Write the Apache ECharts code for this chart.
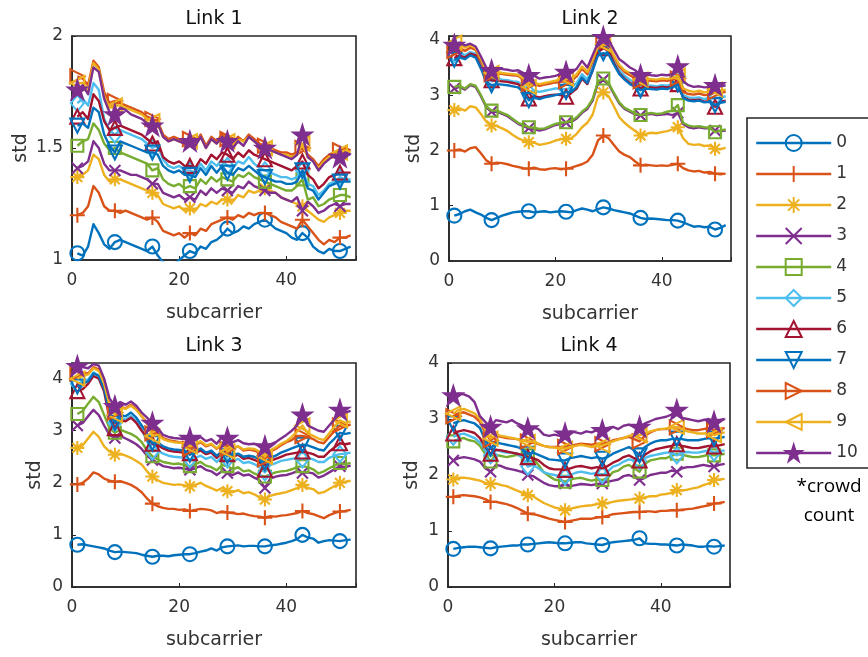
<!DOCTYPE html>
<html><head><meta charset="utf-8">
<script src="https://cdn.jsdelivr.net/npm/echarts@6/dist/echarts.min.js"></script>
<style>html,body{margin:0;padding:0;background:#fff}#c{width:868px;height:657px}</style>
</head><body><div id="c"></div>
<script>
const subcarriers = [1,2,3,4,5,6,7,8,9,10,11,12,13,14,15,16,17,18,19,20,21,22,23,24,25,26,27,28,29,30,31,32,33,34,35,36,37,38,39,40,41,42,43,44,45,46,47,48,49,50,51,52];
const crowdCounts = ['0','1','2','3','4','5','6','7','8','9','10'];
const panelTitles = ['Link 1','Link 2','Link 3','Link 4'];
const xTicks = [0,20,40];
const yTicksL1 = [1,1.5,2];
const yTicksOther = [0,1,2,3,4];

// ---- Link 1 ----
const L1_0 = [1.03,1.02,1.06,1.16,1.12,1.07,1.05,1.08,1.09,1.08,1.07,1.06,1.05,1.04,1.06,1.02,0.99,0.98,0.98,1.00,1.02,1.04,1.03,1.06,1.05,1.08,1.09,1.11,1.14,1.12,1.13,1.15,1.14,1.16,1.17,1.18,1.16,1.14,1.13,1.12,1.10,1.09,1.12,1.10,1.06,1.04,1.03,1.05,1.04,1.04,1.05,1.06];
const L1_1 = [1.20,1.21,1.24,1.33,1.30,1.24,1.22,1.22,1.21,1.22,1.21,1.20,1.19,1.18,1.19,1.17,1.13,1.12,1.11,1.12,1.10,1.12,1.11,1.14,1.13,1.16,1.17,1.18,1.19,1.18,1.20,1.19,1.21,1.20,1.21,1.21,1.20,1.19,1.17,1.16,1.15,1.14,1.18,1.15,1.12,1.09,1.07,1.09,1.08,1.10,1.10,1.11];
const L1_2 = [1.37,1.38,1.40,1.47,1.45,1.38,1.35,1.36,1.36,1.35,1.34,1.33,1.32,1.31,1.30,1.29,1.25,1.24,1.23,1.24,1.22,1.23,1.22,1.25,1.24,1.26,1.25,1.27,1.27,1.26,1.29,1.28,1.31,1.30,1.31,1.32,1.31,1.30,1.28,1.27,1.26,1.25,1.24,1.22,1.20,1.18,1.17,1.19,1.20,1.21,1.22,1.22];
const L1_3 = [1.41,1.42,1.44,1.53,1.50,1.43,1.40,1.40,1.40,1.39,1.38,1.38,1.37,1.36,1.34,1.34,1.30,1.29,1.28,1.29,1.27,1.28,1.27,1.31,1.29,1.32,1.30,1.32,1.31,1.30,1.33,1.32,1.35,1.33,1.32,1.31,1.30,1.30,1.28,1.27,1.26,1.28,1.22,1.26,1.24,1.21,1.22,1.24,1.25,1.24,1.25,1.25];
const L1_4 = [1.51,1.53,1.54,1.61,1.58,1.52,1.49,1.50,1.48,1.47,1.46,1.45,1.44,1.43,1.40,1.41,1.36,1.34,1.33,1.34,1.32,1.33,1.32,1.36,1.34,1.37,1.35,1.37,1.36,1.35,1.38,1.37,1.39,1.37,1.36,1.35,1.34,1.33,1.32,1.31,1.31,1.33,1.36,1.27,1.28,1.24,1.25,1.27,1.28,1.29,1.29,1.28];
const L1_5 = [1.70,1.72,1.69,1.79,1.76,1.63,1.58,1.56,1.58,1.57,1.56,1.55,1.54,1.52,1.50,1.51,1.45,1.42,1.41,1.42,1.40,1.40,1.39,1.43,1.40,1.44,1.42,1.45,1.42,1.41,1.44,1.43,1.46,1.43,1.41,1.40,1.39,1.38,1.37,1.37,1.36,1.37,1.40,1.34,1.33,1.29,1.31,1.34,1.35,1.37,1.36,1.36];
const L1_6 = [1.64,1.66,1.63,1.74,1.71,1.62,1.58,1.59,1.60,1.59,1.58,1.57,1.56,1.54,1.52,1.53,1.46,1.44,1.43,1.44,1.42,1.42,1.41,1.45,1.43,1.47,1.45,1.48,1.47,1.45,1.48,1.46,1.49,1.47,1.46,1.45,1.44,1.43,1.42,1.41,1.40,1.42,1.44,1.38,1.36,1.32,1.34,1.37,1.38,1.39,1.39,1.39];
const L1_7 = [1.60,1.61,1.59,1.68,1.66,1.56,1.51,1.48,1.53,1.52,1.51,1.50,1.49,1.48,1.48,1.47,1.42,1.40,1.39,1.40,1.38,1.38,1.37,1.41,1.38,1.42,1.39,1.42,1.39,1.38,1.41,1.40,1.42,1.40,1.38,1.37,1.36,1.35,1.35,1.34,1.34,1.35,1.40,1.32,1.31,1.27,1.30,1.33,1.34,1.35,1.35,1.35];
const L1_8 = [1.82,1.81,1.78,1.89,1.86,1.75,1.70,1.71,1.70,1.69,1.68,1.67,1.66,1.64,1.63,1.62,1.56,1.54,1.55,1.54,1.53,1.54,1.52,1.56,1.51,1.55,1.53,1.56,1.54,1.52,1.55,1.53,1.56,1.54,1.52,1.51,1.50,1.49,1.48,1.48,1.47,1.48,1.50,1.47,1.45,1.42,1.45,1.47,1.48,1.49,1.50,1.49];
const L1_9 = [1.79,1.79,1.76,1.88,1.85,1.73,1.68,1.69,1.69,1.68,1.67,1.66,1.65,1.63,1.62,1.61,1.55,1.53,1.54,1.53,1.52,1.53,1.51,1.55,1.50,1.54,1.52,1.55,1.53,1.51,1.54,1.53,1.55,1.53,1.51,1.50,1.49,1.48,1.47,1.47,1.46,1.47,1.52,1.46,1.44,1.41,1.44,1.46,1.47,1.48,1.49,1.48];
const L1_10 = [1.76,1.78,1.74,1.86,1.84,1.72,1.66,1.65,1.68,1.67,1.65,1.64,1.63,1.61,1.60,1.61,1.55,1.53,1.54,1.53,1.52,1.53,1.51,1.55,1.50,1.54,1.52,1.55,1.53,1.50,1.53,1.51,1.55,1.53,1.51,1.50,1.49,1.48,1.47,1.46,1.45,1.47,1.56,1.46,1.44,1.40,1.43,1.45,1.47,1.46,1.48,1.47];

// ---- Link 2 ----
const L2_0 = [0.82,0.85,0.90,0.93,0.88,0.84,0.78,0.74,0.78,0.82,0.85,0.88,0.89,0.90,0.90,0.88,0.89,0.90,0.88,0.89,0.90,0.89,0.88,0.92,0.95,0.93,0.90,0.94,0.97,0.95,0.92,0.90,0.88,0.86,0.82,0.78,0.76,0.77,0.76,0.75,0.74,0.74,0.73,0.70,0.66,0.62,0.63,0.61,0.62,0.57,0.60,0.65];
const L2_1 = [2.00,2.02,1.98,2.04,2.06,1.95,1.82,1.76,1.78,1.77,1.75,1.72,1.70,1.68,1.67,1.69,1.66,1.65,1.67,1.68,1.66,1.67,1.69,1.72,1.75,1.80,1.92,2.18,2.27,2.22,2.10,1.98,1.92,1.88,1.80,1.73,1.74,1.73,1.72,1.73,1.72,1.74,1.76,1.68,1.64,1.62,1.63,1.60,1.61,1.58,1.57,1.58];
const L2_2 = [2.73,2.76,2.72,2.80,2.78,2.66,2.52,2.45,2.44,2.40,2.35,2.28,2.22,2.18,2.15,2.14,2.10,2.12,2.14,2.18,2.20,2.21,2.22,2.30,2.42,2.50,2.65,2.98,3.05,2.98,2.80,2.60,2.50,2.42,2.35,2.27,2.30,2.32,2.31,2.33,2.35,2.38,2.42,2.22,2.12,2.10,2.11,2.08,2.09,2.03,2.02,2.05];
const L2_3 = [3.12,3.15,3.10,3.18,3.15,2.98,2.78,2.70,2.70,2.66,2.62,2.55,2.48,2.44,2.40,2.38,2.36,2.38,2.42,2.46,2.48,2.50,2.52,2.58,2.68,2.75,2.90,3.22,3.28,3.20,3.02,2.85,2.75,2.70,2.65,2.63,2.65,2.66,2.64,2.65,2.66,2.64,2.68,2.48,2.42,2.40,2.42,2.40,2.40,2.36,2.35,2.36];
const L2_4 = [3.15,3.17,3.12,3.20,3.17,3.00,2.80,2.72,2.72,2.68,2.64,2.57,2.50,2.46,2.42,2.41,2.39,2.40,2.44,2.48,2.50,2.51,2.54,2.60,2.70,2.78,2.93,3.25,3.30,3.22,3.04,2.87,2.77,2.72,2.67,2.64,2.66,2.68,2.66,2.67,2.70,2.72,2.82,2.50,2.45,2.43,2.44,2.42,2.41,2.33,2.36,2.38];
const L2_5 = [3.75,3.78,3.72,3.78,3.75,3.55,3.30,3.25,3.30,3.28,3.27,3.25,3.24,3.16,3.05,3.08,3.06,3.08,3.10,3.12,3.12,3.10,3.14,3.22,3.38,3.28,3.52,3.80,3.85,3.82,3.62,3.45,3.35,3.28,3.22,3.15,3.18,3.17,3.16,3.18,3.17,3.20,3.25,3.00,2.96,2.95,2.96,2.93,2.94,2.95,2.96,2.98];
const L2_6 = [3.67,3.72,3.68,3.75,3.72,3.50,3.30,3.27,3.26,3.25,3.24,3.22,3.20,3.10,2.94,2.98,2.96,2.98,3.00,3.01,3.00,2.97,3.04,3.12,3.30,3.20,3.45,3.78,3.85,3.80,3.58,3.40,3.30,3.22,3.18,3.12,3.15,3.14,3.13,3.15,3.14,3.16,3.20,2.96,2.92,2.91,2.92,2.88,2.89,2.79,2.88,2.90];
const L2_7 = [3.64,3.68,3.65,3.72,3.68,3.48,3.24,3.18,3.20,3.19,3.18,3.16,3.14,3.05,2.91,2.95,2.93,2.96,2.98,3.00,3.02,3.06,3.06,3.15,3.32,3.22,3.45,3.72,3.76,3.74,3.55,3.38,3.28,3.20,3.15,3.09,3.12,3.11,3.10,3.12,3.11,3.14,3.20,2.95,2.90,2.89,2.90,2.87,2.88,2.82,2.86,2.88];
const L2_8 = [3.80,3.85,3.80,3.86,3.82,3.62,3.42,3.38,3.40,3.38,3.37,3.36,3.35,3.28,3.20,3.20,3.17,3.19,3.21,3.23,3.24,3.25,3.26,3.34,3.48,3.38,3.62,3.88,3.95,3.90,3.70,3.52,3.42,3.36,3.30,3.25,3.27,3.26,3.25,3.27,3.26,3.28,3.30,3.06,3.02,3.01,3.03,3.00,3.01,3.05,3.04,3.06];
const L2_9 = [3.95,3.92,3.86,3.90,3.85,3.66,3.45,3.40,3.42,3.40,3.39,3.38,3.37,3.30,3.15,3.22,3.20,3.22,3.24,3.26,3.28,3.30,3.29,3.38,3.52,3.42,3.65,3.88,3.92,3.90,3.72,3.55,3.45,3.40,3.35,3.28,3.30,3.29,3.28,3.30,3.29,3.31,3.35,3.12,3.08,3.06,3.08,3.05,3.06,3.10,3.08,3.10];
const L2_10 = [3.91,3.95,3.90,3.93,3.88,3.70,3.50,3.45,3.48,3.47,3.46,3.44,3.45,3.40,3.36,3.35,3.30,3.32,3.33,3.35,3.38,3.42,3.40,3.48,3.62,3.50,3.72,3.95,4.05,4.00,3.82,3.65,3.58,3.50,3.45,3.36,3.38,3.36,3.35,3.37,3.36,3.38,3.52,3.25,3.18,3.15,3.16,3.14,3.15,3.18,3.16,3.18];

// ---- Link 3 ----
const L3_0 = [0.81,0.82,0.80,0.78,0.76,0.74,0.70,0.67,0.68,0.67,0.66,0.65,0.62,0.60,0.58,0.60,0.60,0.59,0.61,0.62,0.63,0.63,0.65,0.68,0.70,0.74,0.70,0.76,0.78,0.79,0.80,0.78,0.79,0.79,0.78,0.78,0.80,0.81,0.83,0.85,0.88,0.92,1.00,0.95,0.93,0.85,0.88,0.90,0.89,0.88,0.90,0.91];
const L3_1 = [1.97,2.00,2.08,2.20,2.16,2.08,2.04,2.02,2.03,2.00,1.96,1.90,1.82,1.70,1.60,1.55,1.52,1.50,1.50,1.48,1.49,1.46,1.48,1.50,1.49,1.47,1.42,1.45,1.43,1.42,1.40,1.41,1.38,1.36,1.35,1.33,1.36,1.35,1.37,1.38,1.40,1.42,1.46,1.42,1.40,1.36,1.32,1.38,1.42,1.45,1.46,1.48];
const L3_2 = [2.67,2.72,2.85,2.98,2.88,2.70,2.60,2.54,2.56,2.52,2.48,2.42,2.35,2.22,2.12,2.05,2.00,1.98,1.96,1.97,1.95,1.93,1.96,2.00,1.94,1.90,1.85,1.90,1.84,1.82,1.86,1.80,1.82,1.78,1.72,1.68,1.75,1.78,1.80,1.82,1.86,1.90,1.96,1.90,1.88,1.80,1.82,1.88,1.94,2.00,2.02,2.04];
const L3_3 = [3.10,3.15,3.28,3.40,3.30,3.10,2.92,2.86,2.90,2.85,2.80,2.74,2.65,2.52,2.44,2.38,2.32,2.30,2.28,2.29,2.27,2.25,2.28,2.32,2.25,2.22,2.15,2.22,2.19,2.15,2.20,2.14,2.16,2.10,2.05,1.90,2.08,2.12,2.14,2.15,2.18,2.22,2.19,2.20,2.18,2.10,2.14,2.20,2.26,2.32,2.30,2.33];
const L3_4 = [3.32,3.38,3.52,3.65,3.55,3.30,3.05,2.96,3.02,2.98,2.94,2.88,2.78,2.62,2.51,2.45,2.40,2.38,2.36,2.37,2.34,2.32,2.36,2.40,2.33,2.30,2.24,2.34,2.32,2.26,2.30,2.22,2.24,2.18,2.14,2.12,2.16,2.20,2.22,2.23,2.26,2.30,2.32,2.30,2.26,2.18,2.22,2.28,2.33,2.38,2.36,2.38];
const L3_5 = [3.90,3.95,3.98,4.12,4.06,3.82,3.35,3.15,3.25,3.22,3.28,3.18,3.02,2.80,2.60,2.62,2.56,2.52,2.50,2.49,2.48,2.45,2.48,2.52,2.46,2.50,2.40,2.50,2.45,2.42,2.46,2.38,2.40,2.36,2.30,2.20,2.34,2.38,2.42,2.44,2.46,2.48,2.45,2.48,2.45,2.40,2.40,2.48,2.52,2.55,2.56,2.58];
const L3_6 = [3.76,3.80,3.90,4.05,4.00,3.75,3.25,3.05,3.20,3.18,3.25,3.15,3.00,2.88,2.75,2.72,2.66,2.62,2.60,2.59,2.58,2.57,2.58,2.62,2.55,2.58,2.48,2.58,2.55,2.50,2.54,2.46,2.48,2.44,2.40,2.25,2.42,2.46,2.50,2.54,2.56,2.58,2.60,2.58,2.55,2.50,2.50,2.60,2.68,2.76,2.74,2.76];
const L3_7 = [3.85,3.90,3.95,4.10,4.05,3.80,3.35,3.15,3.30,3.28,3.35,3.25,3.10,2.95,2.76,2.78,2.70,2.66,2.64,2.63,2.62,2.54,2.60,2.66,2.58,2.62,2.52,2.60,2.51,2.54,2.56,2.50,2.52,2.50,2.46,2.38,2.48,2.52,2.58,2.62,2.66,2.70,2.73,2.72,2.68,2.64,2.62,2.75,2.85,2.96,2.94,2.96];
const L3_8 = [4.10,4.12,4.10,4.22,4.18,3.95,3.52,3.35,3.46,3.43,3.50,3.42,3.28,3.15,2.95,2.95,2.86,2.82,2.80,2.78,2.77,2.65,2.72,2.78,2.70,2.74,2.65,2.74,2.65,2.66,2.70,2.62,2.64,2.62,2.58,2.45,2.60,2.65,2.72,2.78,2.82,2.90,2.90,2.88,2.84,2.78,2.76,2.88,3.00,3.10,3.08,3.12];
const L3_9 = [4.00,4.05,4.08,4.20,4.15,3.90,3.50,3.30,3.45,3.42,3.48,3.40,3.28,3.15,2.90,2.92,2.84,2.80,2.78,2.77,2.76,2.70,2.74,2.80,2.72,2.75,2.66,2.76,2.60,2.68,2.70,2.64,2.66,2.65,2.60,2.50,2.62,2.68,2.75,2.80,2.88,2.98,3.10,2.95,2.90,2.85,2.82,2.95,3.08,3.20,3.15,3.18];
const L3_10 = [4.24,4.22,4.20,4.28,4.25,4.00,3.62,3.47,3.55,3.50,3.56,3.48,3.35,3.25,3.15,3.05,2.92,2.88,2.86,2.85,2.84,2.86,2.82,2.88,2.80,2.84,2.75,2.88,2.86,2.78,2.82,2.76,2.74,2.75,2.72,2.70,2.74,2.78,2.85,2.92,3.00,3.10,3.31,3.10,3.05,3.00,2.98,3.10,3.22,3.40,3.35,3.38];

// ---- Link 4 ----
const L4_0 = [0.68,0.70,0.71,0.72,0.72,0.71,0.70,0.69,0.71,0.72,0.73,0.74,0.74,0.76,0.76,0.77,0.78,0.79,0.80,0.79,0.78,0.78,0.79,0.80,0.80,0.78,0.77,0.76,0.75,0.78,0.80,0.81,0.82,0.83,0.84,0.87,0.78,0.77,0.77,0.76,0.76,0.75,0.74,0.76,0.75,0.74,0.72,0.72,0.73,0.72,0.73,0.74];
const L4_1 = [1.61,1.63,1.64,1.63,1.62,1.60,1.57,1.52,1.52,1.50,1.48,1.45,1.41,1.36,1.31,1.30,1.28,1.25,1.22,1.20,1.18,1.16,1.18,1.20,1.22,1.22,1.22,1.24,1.25,1.27,1.30,1.31,1.32,1.33,1.34,1.34,1.35,1.35,1.34,1.36,1.36,1.37,1.37,1.38,1.39,1.40,1.42,1.44,1.46,1.49,1.50,1.52];
const L4_2 = [1.92,1.95,1.95,1.94,1.92,1.90,1.86,1.84,1.85,1.82,1.80,1.76,1.72,1.68,1.64,1.62,1.56,1.50,1.46,1.42,1.40,1.37,1.40,1.42,1.44,1.45,1.46,1.48,1.49,1.50,1.52,1.54,1.55,1.56,1.57,1.58,1.60,1.62,1.62,1.65,1.66,1.68,1.73,1.72,1.74,1.76,1.78,1.82,1.85,1.91,1.92,1.93];
const L4_3 = [2.26,2.30,2.32,2.30,2.28,2.24,2.12,2.06,2.18,2.16,2.12,2.10,2.08,2.05,2.00,1.98,1.92,1.86,1.82,1.80,1.80,1.85,1.80,1.82,1.84,1.83,1.82,1.84,1.85,1.88,1.90,1.92,1.98,2.00,1.96,1.91,1.95,2.00,2.02,2.04,2.04,2.08,2.06,2.12,2.14,2.14,2.16,2.18,2.16,2.15,2.18,2.20];
const L4_4 = [2.60,2.64,2.66,2.62,2.60,2.52,2.38,2.24,2.36,2.34,2.32,2.34,2.36,2.34,2.35,2.30,2.18,2.05,1.98,1.92,1.90,1.88,1.92,1.94,1.95,1.92,1.90,1.92,1.91,1.95,2.05,2.08,2.15,2.18,2.12,2.06,2.20,2.26,2.28,2.30,2.30,2.34,2.38,2.36,2.34,2.32,2.32,2.34,2.36,2.35,2.36,2.38];
const L4_5 = [2.68,2.72,2.74,2.70,2.66,2.58,2.44,2.35,2.45,2.42,2.40,2.40,2.38,2.30,2.15,2.18,2.12,2.05,2.02,2.00,1.98,1.97,2.00,2.04,2.06,2.04,2.02,2.04,2.00,2.06,2.15,2.18,2.24,2.28,2.26,2.25,2.30,2.34,2.36,2.38,2.40,2.40,2.35,2.40,2.41,2.40,2.40,2.42,2.44,2.40,2.42,2.44];
const L4_6 = [2.74,2.78,2.80,2.78,2.75,2.66,2.50,2.38,2.45,2.44,2.42,2.40,2.38,2.36,2.32,2.30,2.26,2.18,2.12,2.10,2.10,2.09,2.12,2.15,2.16,2.14,2.12,2.14,2.12,2.16,2.22,2.26,2.32,2.35,2.30,2.26,2.36,2.42,2.46,2.48,2.50,2.52,2.55,2.52,2.50,2.48,2.48,2.50,2.52,2.51,2.53,2.55];
const L4_7 = [2.92,2.96,2.98,2.95,2.92,2.84,2.62,2.47,2.58,2.56,2.54,2.52,2.50,2.46,2.38,2.40,2.36,2.32,2.28,2.27,2.26,2.26,2.30,2.32,2.34,2.32,2.30,2.32,2.29,2.32,2.38,2.42,2.46,2.50,2.44,2.35,2.50,2.56,2.60,2.62,2.62,2.64,2.65,2.64,2.62,2.62,2.62,2.64,2.66,2.65,2.66,2.68];
const L4_8 = [3.05,3.10,3.12,3.08,3.04,2.95,2.75,2.62,2.70,2.68,2.66,2.65,2.64,2.62,2.60,2.58,2.55,2.52,2.50,2.50,2.50,2.50,2.52,2.54,2.56,2.55,2.54,2.56,2.55,2.58,2.62,2.64,2.66,2.68,2.64,2.60,2.70,2.76,2.80,2.82,2.82,2.84,2.85,2.84,2.82,2.80,2.80,2.82,2.84,2.80,2.82,2.84];
const L4_9 = [3.10,3.16,3.18,3.14,3.10,3.00,2.80,2.65,2.72,2.70,2.68,2.66,2.64,2.62,2.59,2.60,2.56,2.52,2.50,2.49,2.48,2.47,2.50,2.52,2.54,2.52,2.50,2.52,2.53,2.56,2.60,2.63,2.66,2.70,2.72,2.71,2.74,2.78,2.80,2.82,2.83,2.84,2.86,2.82,2.78,2.76,2.74,2.74,2.75,2.71,2.74,2.76];
const L4_10 = [3.42,3.45,3.44,3.40,3.30,3.05,2.95,2.86,2.98,2.96,2.94,2.98,2.92,2.88,2.83,2.85,2.82,2.72,2.70,2.72,2.70,2.74,2.78,2.76,2.74,2.78,2.76,2.80,2.80,2.84,2.86,2.82,2.88,2.90,2.86,2.86,2.92,2.96,3.00,3.02,3.04,3.08,3.16,3.02,3.00,2.98,2.96,2.98,3.00,2.95,2.98,3.00];

const link1 = [L1_0,L1_1,L1_2,L1_3,L1_4,L1_5,L1_6,L1_7,L1_8,L1_9,L1_10];
const link2 = [L2_0,L2_1,L2_2,L2_3,L2_4,L2_5,L2_6,L2_7,L2_8,L2_9,L2_10];
const link3 = [L3_0,L3_1,L3_2,L3_3,L3_4,L3_5,L3_6,L3_7,L3_8,L3_9,L3_10];
const link4 = [L4_0,L4_1,L4_2,L4_3,L4_4,L4_5,L4_6,L4_7,L4_8,L4_9,L4_10];
const links = [link1, link2, link3, link4];

// ---- styling ----
const FONT = 'DejaVu Sans';
const AX = '#262626';
const colors = ['#0072BD','#D95319','#EDB120','#7E2F8E','#77AC30','#4DBEEE','#A2142F','#0072BD','#D95319','#EDB120','#7E2F8E'];
const STAR = 'path://M0,-1L0.2245,-0.309L0.951,-0.309L0.363,0.118L0.588,0.809L0,0.382L-0.588,0.809L-0.363,0.118L-0.951,-0.309L-0.2245,-0.309Z';
const symbols = [
  'circle',
  'path://M0,-1L0,1M-1,0L1,0',
  'path://M0,-1L0,1M-1,0L1,0M-0.7,-0.7L0.7,0.7M-0.7,0.7L0.7,-0.7',
  'path://M-1,-1L1,1M-1,1L1,-1',
  'rect',
  'diamond',
  'triangle',
  'path://M-1,-1L1,-1L0,1Z',
  'path://M-1,-1L1,0L-1,1Z',
  'path://M1,-1L-1,0L1,1Z',
  STAR
];
const symSizes = [14, 15, 14, 11, 12, [13,16], 14, 14, 14, 14, 18];

const grids = [
  {left: 72, top: 36, width: 284, height: 224},
  {left: 449, top: 36, width: 282, height: 225},
  {left: 72, top: 363, width: 284, height: 224},
  {left: 448, top: 363, width: 282, height: 224}
];
const yRange = [[1, 2, 0.5], [0, 4.07, 1], [0, 4.3, 1], [0, 4, 1]];
const yNameGap = [41, 25, 27, 26];

const option = {
  animation: false,
  backgroundColor: '#fff',
  grid: grids.map(g => Object.assign({show: true, borderColor: AX, borderWidth: 1.6, backgroundColor: 'rgba(0,0,0,0)'}, g)),
  xAxis: grids.map((g, i) => ({
    gridIndex: i, type: 'value', min: 0, max: 53, interval: 20,
    axisLine: {show: true, onZero: false, lineStyle: {color: AX, width: 1.6}},
    axisTick: {show: true, inside: true, length: 4, lineStyle: {color: AX, width: 1}},
    axisLabel: {color: '#333', fontSize: 17, fontFamily: FONT, margin: 12,
      formatter: v => xTicks.indexOf(v) >= 0 ? String(v) : ''},
    splitLine: {show: false},
    name: 'subcarrier', nameLocation: 'middle', nameGap: 44,
    nameTextStyle: {color: '#333', fontSize: 19, fontFamily: FONT}
  })),
  yAxis: grids.map((g, i) => ({
    gridIndex: i, type: 'value', min: yRange[i][0], max: yRange[i][1], interval: yRange[i][2],
    axisLine: {show: true, onZero: false, lineStyle: {color: AX, width: 1.6}},
    axisTick: {show: true, inside: true, length: 4, lineStyle: {color: AX, width: 1}},
    axisLabel: {color: '#333', fontSize: 17, fontFamily: FONT, margin: 9,
      formatter: v => {
        const t = i === 0 ? yTicksL1 : yTicksOther;
        const hit = t.find(k => Math.abs(k - v) < 1e-6);
        return hit === undefined ? '' : String(hit);
      }},
    splitLine: {show: false},
    name: 'std', nameLocation: 'middle', nameGap: yNameGap[i], nameRotate: 90,
    nameTextStyle: {color: '#333', fontSize: 19, fontFamily: FONT}
  })),
  legend: {
    orient: 'vertical', left: 747, top: 118,
    itemWidth: 75, itemHeight: 20, itemGap: 11,
    padding: [15, 40, 5, 8],
    borderColor: AX, borderWidth: 1.6, backgroundColor: '#fff',
    textStyle: {color: '#333', fontSize: 17, fontFamily: FONT, lineHeight: 20},
    itemStyle: {borderWidth: 2},
    lineStyle: {width: 2.4},
    data: crowdCounts
  },
  graphic: [
    ...panelTitles.map((t, i) => ({
      type: 'text',
      x: grids[i].left + grids[i].width / 2,
      y: grids[i].top - 17,
      style: {text: t, fill: '#111', font: '19px "DejaVu Sans"', textAlign: 'center', textVerticalAlign: 'middle'}
    })),
    {type: 'text', x: 829, y: 487, style: {text: '*crowd', fill: '#000', font: '19px "Open Sans"', textAlign: 'center', textVerticalAlign: 'middle'}},
    {type: 'text', x: 829, y: 516, style: {text: 'count', fill: '#000', font: '19px "Open Sans"', textAlign: 'center', textVerticalAlign: 'middle'}}
  ],
  series: []
};

links.forEach((link, p) => {
  link.forEach((vals, s) => {
    const c = colors[s];
    option.series.push({
      type: 'line', name: crowdCounts[s],
      xAxisIndex: p, yAxisIndex: p,
      data: subcarriers.map((x, i) => i % 7 === 0 ? [x, vals[i]] : {value: [x, vals[i]], symbol: 'none'}),
      symbol: symbols[s], symbolSize: symSizes[s], showAllSymbol: true,
      lineStyle: {color: c, width: 2.4, join: 'round'},
      itemStyle: {color: s === 10 ? c : 'rgba(255,255,255,0)', borderColor: c, borderWidth: 2.1},
      emphasis: {disabled: true},
      z: 2 + s * 0.01,
      clip: true
    });
  });
});

const chart = echarts.init(document.getElementById('c'), null, {renderer: 'canvas'});
chart.setOption(option);
</script></body></html>
